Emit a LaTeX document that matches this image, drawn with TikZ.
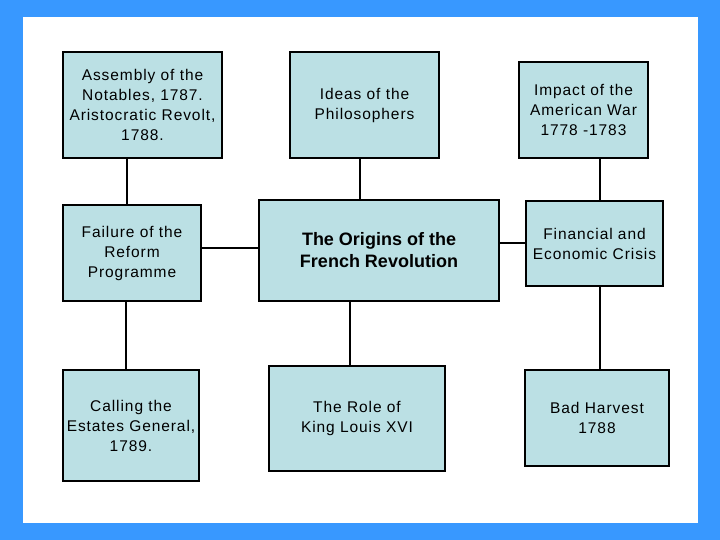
\documentclass[tikz,border=0pt]{standalone}
\usepackage{fontspec}
\setmainfont{Liberation Sans}
\newfontfamily\boxfont[LetterSpace=6]{Liberation Sans}
\definecolor{frameblue}{RGB}{56,152,255}
\definecolor{boxfill}{RGB}{187,224,228}
\begin{document}
\begin{tikzpicture}[x=1pt, y=-1pt,
  box/.style={draw, line width=1.4pt, fill=boxfill, align=center, inner sep=0pt, font=\boxfont\fontsize{15.5}{20}\selectfont},
  topic/.style={draw, line width=1.4pt, fill=boxfill, align=center, inner sep=0pt, font=\fontsize{18}{22}\selectfont\bfseries},
  link/.style={line width=1.2pt}
]
\useasboundingbox (0,0) rectangle (720,540);
\fill[frameblue] (0,0) rectangle (720,540);
\fill[white] (23,17) rectangle (698,523);

\node[box, minimum width=159pt, minimum height=106pt] (assembly) at (142.5,105) {Assembly of the\\Notables, 1787.\\Aristocratic Revolt,\\1788.};
\node[box, minimum width=149pt, minimum height=106pt] (ideas) at (364.5,105) {Ideas of the\\Philosophers};
\node[box, minimum width=129pt, minimum height=96pt] (impact) at (583.5,110) {Impact of the\\American War\\1778 -1783};
\node[box, minimum width=138pt, minimum height=96pt] (failure) at (132,253) {Failure of the\\Reform\\Programme};
\node[topic, minimum width=240pt, minimum height=101pt] (origins) at (379,250.5) {The Origins of the\\French Revolution};
\node[box, minimum width=137pt, minimum height=85pt] (financial) at (594.5,243.5) {Financial and\\Economic Crisis};
\node[box, minimum width=136pt, minimum height=111pt] (calling) at (131,425.5) {Calling the\\Estates General,\\1789.};
\node[box, minimum width=176pt, minimum height=105pt] (role) at (357,418.5) {The Role of\\King Louis XVI};
\node[box, minimum width=144pt, minimum height=96pt] (harvest) at (597,418) {Bad Harvest\\1788};

\draw[link] ([xshift=-5pt]failure.north) -- ([xshift=-5pt]failure.north |- assembly.south);
\draw[link] ([xshift=-5pt]calling.north) -- ([xshift=-5pt]calling.north |- failure.south);
\draw[link] ([yshift=5pt]failure.east) -- ([yshift=5pt]failure.east -| origins.west);
\draw[link] ([xshift=-4.5pt]ideas.south) -- ([xshift=-4.5pt]ideas.south |- origins.north);
\draw[link] ([xshift=-7pt]role.north) -- ([xshift=-7pt]role.north |- origins.south);
\draw[link] ([yshift=0.5pt]financial.west) -- ([yshift=0.5pt]financial.west -| origins.east);
\draw[link] ([xshift=16.5pt]impact.south) -- ([xshift=16.5pt]impact.south |- financial.north);
\draw[link] ([xshift=3pt]harvest.north) -- ([xshift=3pt]harvest.north |- financial.south);
\end{tikzpicture}
\end{document}
